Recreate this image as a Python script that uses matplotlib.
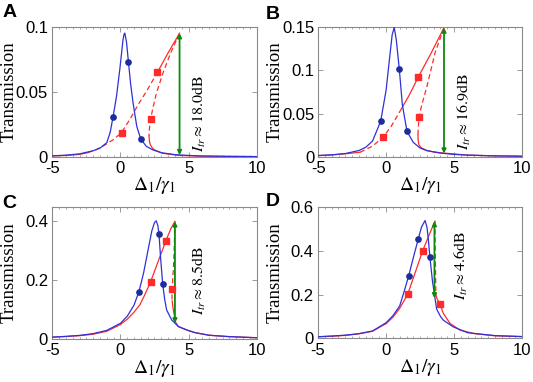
import matplotlib
matplotlib.use("Agg")
import matplotlib.pyplot as plt
from matplotlib.ticker import FuncFormatter, MultipleLocator

plt.rcParams['mathtext.fontset'] = 'stix'

# ---------------- data ----------------
# Panel A
A_blue_x = [-5, -4, -3, -2, -1.5, -1.0, -0.75, -0.54, -0.29, -0.05, 0.19, 0.26, 0.32, 0.45, 0.59, 0.75, 0.93, 1.2, 1.49, 1.9, 2.39, 3, 4, 5, 6, 8, 10]
A_blue_y = [0.0009, 0.0014, 0.0024, 0.0048, 0.0068, 0.011, 0.019, 0.0308, 0.0464, 0.0669, 0.090, 0.094, 0.0951, 0.088, 0.0728, 0.056, 0.0413, 0.0235, 0.0138, 0.0082, 0.0054, 0.0033, 0.0018, 0.0012, 0.0008, 0.0005, 0.0003]
A_dot_x = [-0.54, 0.59, 1.49]
A_dot_y = [0.0308, 0.0728, 0.0138]
A_tail_x = [-5, -4, -3, -2.4]
A_tail_y = [0.0008, 0.0012, 0.002, 0.0033]
A_rise_x = [-2.4, -1.8, -1.14, -0.5, 0.08, 0.7, 1.29, 2.0, 2.71]
A_rise_y = [0.0033, 0.0055, 0.0092, 0.0135, 0.0187, 0.029, 0.040, 0.052, 0.0649]
A_top_x = [2.71, 3.49, 4.34]
A_top_y = [0.0649, 0.0798, 0.095]
A_mid_x = [4.34, 3.68, 3.12, 2.64, 2.35, 2.22, 2.13, 2.10]
A_mid_y = [0.095, 0.0798, 0.0644, 0.049, 0.036, 0.0292, 0.022, 0.016]
A_low_x = [2.10, 2.13, 2.2, 2.35, 2.51, 3.12, 4.34, 6, 8, 10]
A_low_y = [0.016, 0.012, 0.0092, 0.0068, 0.0054, 0.0028, 0.0012, 0.0006, 0.0004, 0.0003]
A_sq_x = [0.08, 2.71, 2.22]
A_sq_y = [0.0187, 0.0649, 0.0292]
A_arrow = (4.34, 0.095, 0.0015)
A_text = (5.8, 0.0040, r'$I_{tr}\approx 18.0\mathrm{dB}$')
A_ylim = (0, 0.1)
A_yticks = [0, 0.05, 0.1]

# Panel B
B_blue_x = [-5, -4, -3, -2, -1.5, -1, -0.4, 0, 0.25, 0.45, 0.6, 0.75, 0.97, 1.2, 1.54, 2, 2.5, 3, 4, 5, 6, 8, 10]
B_blue_y = [0.0017, 0.0025, 0.004, 0.0075, 0.0112, 0.0184, 0.0411, 0.077, 0.113, 0.141, 0.149, 0.135, 0.1017, 0.060, 0.0296, 0.0169, 0.0104, 0.0074, 0.0045, 0.003, 0.0022, 0.0013, 0.0009]
B_dot_x = [-0.40, 0.97, 1.54]
B_dot_y = [0.0411, 0.1017, 0.0296]
B_tail_x = [-5, -4, -3, -1.92]
B_tail_y = [0.0016, 0.0024, 0.0037, 0.0055]
B_rise_x = [-1.92, -1.0, -0.21, 0.4, 1.0]
B_rise_y = [0.0055, 0.0125, 0.023, 0.036, 0.052]
B_top_x = [1.0, 1.7, 2.37, 3.3, 4.27]
B_top_y = [0.052, 0.071, 0.092, 0.119, 0.149]
B_mid_x = [4.27, 3.61, 2.99, 2.63, 2.43, 2.37, 2.35]
B_mid_y = [0.149, 0.120, 0.080, 0.060, 0.0465, 0.0319, 0.026]
B_low_x = [2.35, 2.36, 2.42, 2.6, 3.0, 3.5, 4.27, 6, 8, 10]
B_low_y = [0.026, 0.020, 0.014, 0.0105, 0.0075, 0.0058, 0.0045, 0.0022, 0.0013, 0.0009]
B_sq_x = [-0.21, 2.37, 2.43]
B_sq_y = [0.023, 0.092, 0.0465]
B_arrow = (4.27, 0.149, 0.004)
B_text = (5.8, 0.0085, r'$I_{tr}\approx 16.9\mathrm{dB}$')
B_ylim = (0, 0.15)
B_yticks = [0, 0.05, 0.1, 0.15]

# Panel C
C_blue_x = [-5, -4, -3, -2, -1, 0, 0.5, 1.0, 1.36, 1.7, 2.0, 2.3, 2.5, 2.63, 2.75, 2.83, 2.95, 3.10, 3.25, 3.39, 3.76, 4.25, 5.0, 5.47, 6.5, 7.9, 10]
C_blue_y = [0.0072, 0.0095, 0.013, 0.019, 0.030, 0.054, 0.078, 0.116, 0.1616, 0.225, 0.296, 0.367, 0.396, 0.402, 0.385, 0.357, 0.275, 0.1877, 0.135, 0.0994, 0.0655, 0.043, 0.029, 0.0224, 0.0135, 0.009, 0.005]
C_dot_x = [1.36, 2.83, 3.10]
C_dot_y = [0.1616, 0.357, 0.1877]
C_tail_x = [-5, -3, -2, -1, 0]
C_tail_y = [0.0068, 0.012, 0.017, 0.027, 0.05]
C_rise_x = []
C_rise_y = []
C_top_x = [0, 0.5, 1.0, 1.43, 1.8, 2.22, 2.8, 3.34, 3.7, 4.0]
C_top_y = [0.05, 0.068, 0.092, 0.117, 0.152, 0.1955, 0.268, 0.3346, 0.375, 0.40]
C_mid_x = [4.0, 3.96, 3.90, 3.82, 3.78, 3.80]
C_mid_y = [0.40, 0.33, 0.25, 0.19, 0.155, 0.13]
C_low_x = [3.80, 3.86, 3.93, 4.02, 4.25, 4.86, 5.47, 6.5, 7.9, 10]
C_low_y = [0.13, 0.105, 0.088, 0.060, 0.043, 0.0316, 0.0224, 0.0135, 0.009, 0.005]
C_sq_x = [2.22, 3.34, 3.75]
C_sq_y = [0.1955, 0.3346, 0.1717]
C_arrow = (4.0, 0.40, 0.054)
C_text = (5.8, 0.082, r'$I_{tr}\approx 8.5\mathrm{dB}$')
C_ylim = (0, 0.45)
C_yticks = [0, 0.2, 0.4]

# Panel D
D_blue_x = [-5, -4, -3, -2, -1, 0, 0.5, 1.0, 1.3, 1.66, 2.0, 2.37, 2.6, 2.86, 3.0, 3.1, 3.22, 3.4, 3.6, 3.71, 4.0, 4.2, 4.93, 6, 8, 10]
D_blue_y = [0.008, 0.011, 0.015, 0.022, 0.034, 0.072, 0.104, 0.149, 0.21, 0.287, 0.37, 0.4576, 0.51, 0.54, 0.51, 0.455, 0.371, 0.265, 0.18, 0.135, 0.10, 0.084, 0.053, 0.026, 0.013, 0.0085]
D_dot_x = [1.66, 2.37, 3.22]
D_dot_y = [0.287, 0.4576, 0.371]
D_tail_x = [-5, -4, -3, -2, -1, 0]
D_tail_y = [0.0075, 0.010, 0.014, 0.021, 0.033, 0.068]
D_rise_x = []
D_rise_y = []
D_top_x = [0, 0.5, 1.0, 1.59, 2.1, 2.69, 3.2, 3.59]
D_top_y = [0.068, 0.097, 0.138, 0.203, 0.295, 0.402, 0.48, 0.537]
D_mid_x = [3.59, 3.60, 3.62, 3.64, 3.66]
D_mid_y = [0.537, 0.45, 0.35, 0.26, 0.20]
D_low_x = [3.66, 3.75, 3.96, 4.2, 4.69, 5.43, 6.5, 8, 10]
D_low_y = [0.20, 0.18, 0.157, 0.115, 0.069, 0.038, 0.022, 0.012, 0.0085]
D_sq_x = [1.59, 2.69, 3.96]
D_sq_y = [0.203, 0.402, 0.157]
D_arrow = (3.55, 0.537, 0.184)
D_text = (5.5, 0.176, r'$I_{tr}\approx 4.6\mathrm{dB}$')
D_ylim = (0, 0.6)
D_yticks = [0, 0.2, 0.4, 0.6]

x_lim = (-5, 10)
x_ticks = [-5, 0, 5, 10]
panel_labels = ['A', 'B', 'C', 'D']

# ---------------- styling ----------------
BLUE = '#3030d8'
DOT = '#1c2c9c'
RED = '#ff2a2a'
GREEN = '#0b8a0b'
FRAME = '#8a8a8a'

fig = plt.figure(figsize=(5.33, 3.82), dpi=100)

positions = [
    [0.0981, 0.589, 0.3835, 0.341],
    [0.5972, 0.589, 0.3816, 0.341],
    [0.0981, 0.112, 0.3835, 0.347],
    [0.5966, 0.114, 0.3833, 0.343],
]

panels = [
    dict(bx=A_blue_x, by=A_blue_y, dx=A_dot_x, dy=A_dot_y, tx=A_tail_x, ty=A_tail_y,
         rx=A_rise_x, ry=A_rise_y, px=A_top_x, py=A_top_y, mx=A_mid_x, my=A_mid_y,
         lx=A_low_x, ly=A_low_y, sx=A_sq_x, sy=A_sq_y, arrow=A_arrow, text=A_text,
         ylim=A_ylim, yticks=A_yticks),
    dict(bx=B_blue_x, by=B_blue_y, dx=B_dot_x, dy=B_dot_y, tx=B_tail_x, ty=B_tail_y,
         rx=B_rise_x, ry=B_rise_y, px=B_top_x, py=B_top_y, mx=B_mid_x, my=B_mid_y,
         lx=B_low_x, ly=B_low_y, sx=B_sq_x, sy=B_sq_y, arrow=B_arrow, text=B_text,
         ylim=B_ylim, yticks=B_yticks),
    dict(bx=C_blue_x, by=C_blue_y, dx=C_dot_x, dy=C_dot_y, tx=C_tail_x, ty=C_tail_y,
         rx=C_rise_x, ry=C_rise_y, px=C_top_x, py=C_top_y, mx=C_mid_x, my=C_mid_y,
         lx=C_low_x, ly=C_low_y, sx=C_sq_x, sy=C_sq_y, arrow=C_arrow, text=C_text,
         ylim=C_ylim, yticks=C_yticks),
    dict(bx=D_blue_x, by=D_blue_y, dx=D_dot_x, dy=D_dot_y, tx=D_tail_x, ty=D_tail_y,
         rx=D_rise_x, ry=D_rise_y, px=D_top_x, py=D_top_y, mx=D_mid_x, my=D_mid_y,
         lx=D_low_x, ly=D_low_y, sx=D_sq_x, sy=D_sq_y, arrow=D_arrow, text=D_text,
         ylim=D_ylim, yticks=D_yticks),
]

fmt = FuncFormatter(lambda v, p: '{:g}'.format(v))
lw = 0.9

for i, (pos, P) in enumerate(zip(positions, panels)):
    ax = fig.add_axes(pos)
    # red branches
    ax.plot(P['tx'], P['ty'], color=RED, lw=lw, zorder=2)
    if P['rx']:
        ax.plot(P['rx'], P['ry'], color=RED, lw=lw, ls=(0, (4, 2.5)), zorder=2)
    ax.plot(P['px'], P['py'], color=RED, lw=lw, zorder=2)
    ax.plot(P['mx'], P['my'], color=RED, lw=lw, ls=(0, (4, 2.5)), zorder=2)
    ax.plot(P['lx'], P['ly'], color=RED, lw=lw, zorder=2)
    # blue curve
    ax.plot(P['bx'], P['by'], color=BLUE, lw=lw, zorder=3)
    # green arrow
    xa, ytop, ybot = P['arrow']
    ax.annotate('', xy=(xa, ytop), xytext=(xa, ybot),
                arrowprops=dict(arrowstyle='<|-|>', color=GREEN, lw=1.3,
                                mutation_scale=6, shrinkA=0, shrinkB=0), zorder=4)
    # markers
    ax.plot(P['dx'], P['dy'], 'o', color=DOT, ms=3.8, zorder=5)
    ax.plot(P['sx'], P['sy'], 's', color=RED, ms=4.0, zorder=5)
    # annotation text (bottom of rotated text anchored at given y)
    tx, ty, s = P['text']
    ax.text(tx, ty, s, rotation=90, ha='center', va='bottom', fontsize=11.5)

    ax.set_xlim(*x_lim)
    ax.set_ylim(*P['ylim'])
    ax.set_xticks(x_ticks)
    ax.set_yticks(P['yticks'])
    ax.xaxis.set_minor_locator(MultipleLocator(0.5))
    ax.yaxis.set_major_formatter(fmt)
    ax.xaxis.set_major_formatter(fmt)
    ax.tick_params(which='both', direction='in', top=True, right=True,
                   color=FRAME, labelsize=12, pad=3)
    ax.tick_params(which='major', length=3.5, width=0.6)
    ax.tick_params(which='minor', length=1.5, width=0.5)
    ax.yaxis.set_tick_params(which='minor', length=0)
    for lab in ax.get_xticklabels() + ax.get_yticklabels():
        lab.set_family('Liberation Sans')
    for sp in ax.spines.values():
        sp.set_color(FRAME)
        sp.set_linewidth(0.8)
    ax.set_ylabel('Transmission', family='Liberation Serif', fontsize=13.5)
    ax.yaxis.set_label_coords(-0.17, 0.5)
    ax.set_xlabel(r'$\Delta_1/\gamma_1$', fontsize=14)
    ax.xaxis.set_label_coords(0.5, -0.14)

label_pos = [(0.005, 0.99), (0.499, 0.985), (0.005, 0.49), (0.499, 0.495)]
for lab, (lx, ly) in zip(panel_labels, label_pos):
    fig.text(lx, ly, lab, fontsize=14, fontweight='bold', family='Liberation Sans',
             ha='left', va='top')

fig.savefig('out.png', dpi=100)
